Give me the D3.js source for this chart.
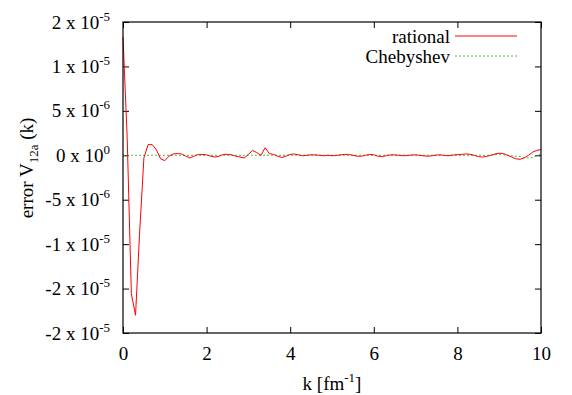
<!DOCTYPE html>
<html>
<head>
<meta charset="utf-8">
<script src="https://cdn.jsdelivr.net/npm/d3@7"></script>
<style>
  svg text, svg tspan { font-family: "Liberation Serif", "Times New Roman" !important; }
</style>
</head>
<body style="margin:0">
<svg id="chart" width="572" height="395" font-family="Liberation Serif"></svg>
<script>
// k grid (fm^-1)
const kValues = [
  0.0, 0.1, 0.2, 0.3, 0.4, 0.5, 0.6, 0.7, 0.8, 0.9,
  1.0, 1.1, 1.2, 1.3, 1.4, 1.5, 1.6, 1.7, 1.8, 1.9,
  2.0, 2.1, 2.2, 2.3, 2.4, 2.5, 2.6, 2.7, 2.8, 2.9,
  3.0, 3.1, 3.2, 3.3, 3.4, 3.5, 3.6, 3.7, 3.8, 3.9,
  4.0, 4.1, 4.2, 4.3, 4.4, 4.5, 4.6, 4.7, 4.8, 4.9,
  5.0, 5.1, 5.2, 5.3, 5.4, 5.5, 5.6, 5.7, 5.8, 5.9,
  6.0, 6.1, 6.2, 6.3, 6.4, 6.5, 6.6, 6.7, 6.8, 6.9,
  7.0, 7.1, 7.2, 7.3, 7.4, 7.5, 7.6, 7.7, 7.8, 7.9,
  8.0, 8.1, 8.2, 8.3, 8.4, 8.5, 8.6, 8.7, 8.8, 8.9,
  9.0, 9.1, 9.2, 9.3, 9.4, 9.5, 9.6, 9.7, 9.8, 9.9,
  10.0
];

// errors in units of 1e-7
const rationalErr = [
  133, 20, -156, -180, -85, -3, 12, 12, 6, -4,
  -6, -1, 1.5, 2, 1.5, -1, -3, -1, 1, 1,
  0.5, -1, -2, -1, 1, 1, 0.5, -1, -2, -3,
  1, 5.5, 3, 0, 8.5, 2, 1, -1, -2.5, -1,
  1, 1.5, 0.5, -0.5, 0, 0.5, 0.5, 0, -0.5, 0,
  -0.5, -0.3, 0.5, 1, 1, 0, -1, -1, 0, 1,
  0.5, -1, -1.5, -0.5, 0.5, 0.5, 0, -0.5, -0.3, 0.3,
  0.5, 0, -0.7, -1, -0.5, 0.3, 0.5, -0.3, -0.5, 0.3,
  0.8, 1, 1.5, 1.2, 0, -1.5, -2, -1.2, 0, 1.5,
  2.3, 2, 0, -2, -4, -4.5, -3, 0, 3.5, 5.5,
  6.5
];

const chebyshevErr = [
  0, 0, 0, 0, 0, 0, 0, 0, 0, 0,
  0, 0, 0, 0, 0, 0, 0, 0, 0, 0,
  0, 0, 0, 0, 0, 0, 0, 0, 0, 0,
  0, 0, 0, 0, 0, 0, 0, 0, 0, 0,
  0, 0, 0, 0, 0, 0, 0, 0, 0, 0,
  0, 0, 0, 0, 0, 0, 0, 0, 0, 0,
  0, 0, 0, 0, 0, 0, 0, 0, 0, 0,
  0, 0, 0, 0, 0, 0, 0, 0, 0, 0,
  0, 0, 0, 0, 0, 0, 0, 0, 0.3, 0.8,
  1, 0.5, 0, -0.5, -1, -1.5, -2.5, -3, -2.5, -0.5,
  1.5
];

const xTicks = [0, 2, 4, 6, 8, 10];
const yTicks = [-2e-5, -1.5e-5, -1e-5, -5e-6, 0, 5e-6, 1e-5, 1.5e-5];
const yTickMant = ["-2", "-2", "-1", "-5", "0", "5", "1", "2"];
const yTickExp = ["-5", "-5", "-5", "-6", "0", "-6", "-5", "-5"];
const seriesNames = ["rational", "Chebyshev"];

const w = 572;
const h = 395;
const margin = { left: 123, right: 31, top: 22, bottom: 62 };
const fontFamily = "Liberation Serif";
const fontSize = 19;
const supSize = 13;
const green = "#4cb84c";

const xScale = d3.scaleLinear()
                 .domain([0, 10])
                 .range([margin.left, w - margin.right]);

const yScale = d3.scaleLinear()
                 .domain([-2e-5, 1.5e-5])
                 .range([h - margin.bottom, margin.top]);

const svg = d3.select("#chart");

const rational = kValues.map((k, i) => ({ k: k, v: rationalErr[i] * 1e-7 }));
const chebyshev = kValues.map((k, i) => ({ k: k, v: chebyshevErr[i] * 1e-7 }));

const line = d3.line()
               .x(d => xScale(d.k))
               .y(d => yScale(d.v));

// axes, ticks pointing inward, mirrored on top/right
const xAxis = d3.axisBottom(xScale).tickValues(xTicks).tickSizeInner(-6).tickSizeOuter(0).tickPadding(14);
const xAxisTop = d3.axisTop(xScale).tickValues(xTicks).tickSizeInner(-6).tickSizeOuter(0).tickFormat("");
const yAxis = d3.axisLeft(yScale).tickValues(yTicks).tickSizeInner(-6).tickSizeOuter(0).tickPadding(13).tickFormat("");
const yAxisRight = d3.axisRight(yScale).tickValues(yTicks).tickSizeInner(-6).tickSizeOuter(0).tickFormat("");

svg.append("g")
   .attr("transform", `translate(0, ${h - margin.bottom})`)
   .call(xAxis);

svg.append("g")
   .attr("transform", `translate(0, ${margin.top})`)
   .call(xAxisTop);

const gy = svg.append("g")
   .attr("transform", `translate(${margin.left}, 0)`)
   .call(yAxis);
gy.selectAll(".tick text")
  .each(function(d, i) {
    const t = d3.select(this);
    t.append("tspan").text(yTickMant[i] + " x 10");
    t.append("tspan").attr("font-size", supSize).attr("dy", -8).text(yTickExp[i]);
  });

svg.append("g")
   .attr("transform", `translate(${w - margin.right}, 0)`)
   .call(yAxisRight);

svg.selectAll(".domain").remove();
svg.selectAll("g").attr("font-family", fontFamily);
svg.selectAll(".tick line").attr("stroke", "#000");
svg.selectAll(".tick text").attr("fill", "#000").attr("font-size", fontSize);

// series
svg.append("path")
   .datum(chebyshev)
   .attr("fill", "none")
   .attr("stroke", green)
   .attr("stroke-width", 1)
   .attr("stroke-dasharray", "2,2")
   .attr("d", line);

svg.append("path")
   .datum(rational)
   .attr("fill", "none")
   .attr("stroke", "#ff0000")
   .attr("stroke-width", 1)
   .attr("d", line);

// border
svg.append("rect")
   .attr("x", margin.left)
   .attr("y", margin.top)
   .attr("width", w - margin.left - margin.right)
   .attr("height", h - margin.top - margin.bottom)
   .attr("fill", "none")
   .attr("stroke", "#000")
   .attr("stroke-width", 1.2);

// legend
const legendStyles = [
  { color: "#ff0000", dash: null },
  { color: green, dash: "2,2" }
];
seriesNames.forEach((name, i) => {
  const y = 36 + i * 20;
  svg.append("text")
     .attr("x", 450)
     .attr("y", y + 7)
     .attr("text-anchor", "end")
     .attr("font-size", fontSize)
     .text(name);
  svg.append("line")
     .attr("x1", 455)
     .attr("x2", 517)
     .attr("y1", y)
     .attr("y2", y)
     .attr("stroke", legendStyles[i].color)
     .attr("stroke-width", 1)
     .attr("stroke-dasharray", legendStyles[i].dash);
});

// axis labels
const xl = svg.append("text")
   .attr("x", xScale(5))
   .attr("y", 390)
   .attr("text-anchor", "middle")
   .attr("font-size", fontSize);
xl.append("tspan").text("k [fm");
xl.append("tspan").attr("font-size", supSize).attr("dy", -8).text("-1");
xl.append("tspan").attr("dy", 8).text("]");

const yl = svg.append("text")
   .attr("transform", "translate(33, 168) rotate(-90)")
   .attr("text-anchor", "middle")
   .attr("font-size", fontSize);
yl.append("tspan").text("error V");
yl.append("tspan").attr("font-size", supSize).attr("dy", 5).text("12a");
yl.append("tspan").attr("dy", -5).text(" (k)");

// serif font on every text element
svg.selectAll("text, tspan")
   .attr("font-family", fontFamily)
   .style("font-family", "'" + fontFamily + "'");
</script>
</body>
</html>
